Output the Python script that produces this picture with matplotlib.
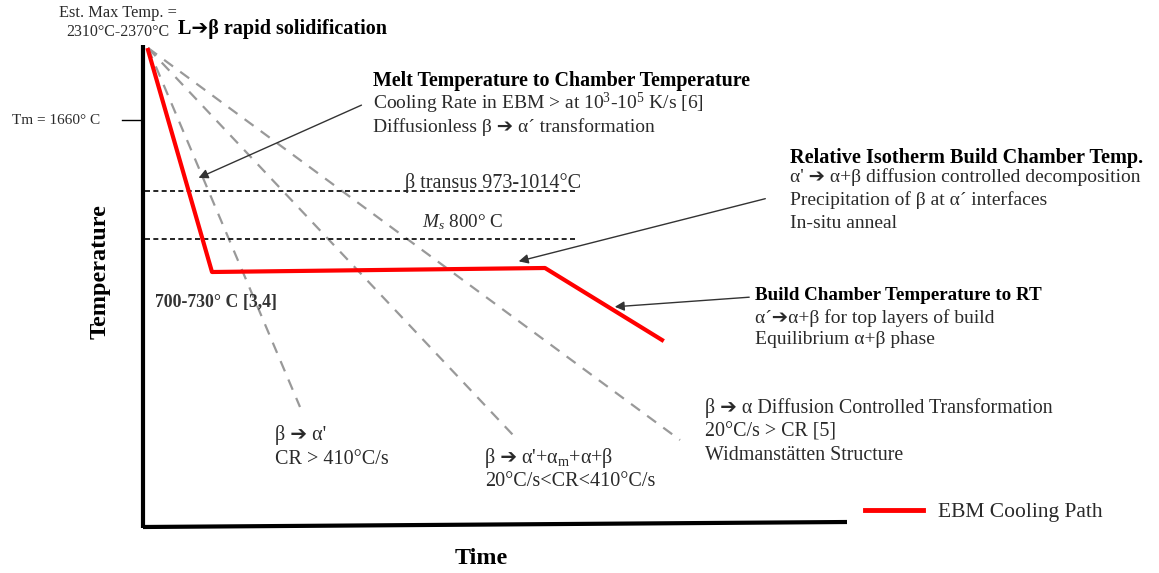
import matplotlib
matplotlib.use("Agg")
import matplotlib.pyplot as plt

plt.rcParams["font.family"] = ["Liberation Serif", "DejaVu Sans"]
plt.rcParams["mathtext.fontset"] = "custom"
plt.rcParams["mathtext.rm"] = "Liberation Serif"
plt.rcParams["mathtext.it"] = "Liberation Serif:italic"
plt.rcParams["mathtext.bf"] = "Liberation Serif:bold"

# schematic units: time from the origin of the axes, temperature upwards
ebm_time = [5, 69, 402, 519]
ebm_temp = [478, 256, 260, 188]

start_time, start_temp = 5, 480
cr_end_time = [157, 370, 537]
cr_end_temp = [121, 93, 88]

isotherm_temp = [337, 289]
isotherm_span = [2, 435]
tm_temp = 408

TXT = "#2a2a2a"
ARW = "\u2794"

fig = plt.figure(figsize=(11.59, 5.73), dpi=100)
ax = fig.add_axes([0, 0, 1, 1])
ax.set_xlim(-143, 1016)
ax.set_ylim(-45, 528)
ax.axis("off")

# axes lines
ax.plot([0, 0], [0, 483], color="black", lw=3, solid_capstyle="butt")
ax.plot([0, 704], [1, 6], color="black", lw=3, solid_capstyle="butt")
ax.plot([-21, -3], [tm_temp, tm_temp], color="black", lw=1)

# cooling rate lines
for t, T in zip(cr_end_time, cr_end_temp):
    ax.plot([start_time, t], [start_temp, T], color="#999999", lw=1.6,
            dashes=(5, 4))

# isotherms
for T in isotherm_temp:
    ax.plot(isotherm_span, [T, T], color="black", lw=1.2, dashes=(3, 2))

# EBM path
ax.plot(ebm_time, ebm_temp, color="red", lw=3)

# legend
ax.plot([722, 780], [18, 18], color="red", lw=3.5)
ax.text(795, 15, "EBM Cooling Path", fontsize=15.5, color=TXT, va="center")

# labels
ax.text(-43, 256, "Temperature", rotation=90, fontsize=17.5, weight="bold",
        ha="center", va="center")
ax.text(338, -30, "Time", fontsize=17.3, weight="bold", ha="center",
        va="center")
ax.text(-131, tm_temp, "Tm = 1660° C", fontsize=11, color=TXT, va="center")
ax.text(-25, 515, "Est. Max Temp. =", fontsize=11.8, color=TXT,
        ha="center", va="center")
ax.text(-25, 496, "2310°C-2370°C", fontsize=11.5, color=TXT,
        ha="center", va="center")
ax.text(35, 499, f"L{ARW}β rapid solidification", fontsize=14.5,
        weight="bold", va="center")
ax.text(12, 226, "700-730° C [3,4]", fontsize=12.8, weight="bold",
        color="#333333", va="center")

ax.text(262, 345, "β transus 973-1014°C", fontsize=14.5, color=TXT,
        va="center")
ax.text(279, 306, "$M_s$ 800° C", fontsize=13.8, color=TXT, va="center")

ax.text(230, 447, "Melt Temperature to Chamber Temperature", fontsize=14.4,
        weight="bold", va="center")
ax.text(230, 425, "Cooling Rate in EBM > at 10$^3$-10$^5$ K/s [6]",
        fontsize=14, color=TXT, va="center")
ax.text(230, 401, f"Diffusionless β {ARW} α´ transformation", fontsize=14,
        color=TXT, va="center")
ax.annotate("", xy=(53, 349), xytext=(221, 424),
            arrowprops=dict(arrowstyle="-|>", color="#333333", lw=1,
                            mutation_scale=14))

ax.text(647, 370, "Relative Isotherm Build Chamber Temp.", fontsize=14.6,
        weight="bold", va="center")
ax.text(647, 351, f"α' {ARW} α+β diffusion controlled decomposition",
        fontsize=14, color=TXT, va="center")
ax.text(647, 328, "Precipitation of β at α´ interfaces", fontsize=14,
        color=TXT, va="center")
ax.text(647, 304, "In-situ anneal", fontsize=14, color=TXT, va="center")
ax.annotate("", xy=(373, 266), xytext=(625, 330),
            arrowprops=dict(arrowstyle="-|>", color="#333333", lw=1,
                            mutation_scale=14))

ax.text(612, 232, "Build Chamber Temperature to RT", fontsize=13.7,
        weight="bold", va="center")
ax.text(612, 210, f"α´{ARW}α+β for top layers of build", fontsize=14,
        color=TXT, va="center")
ax.text(612, 188, "Equilibrium α+β phase", fontsize=14, color=TXT,
        va="center")
ax.annotate("", xy=(469, 221), xytext=(609, 231),
            arrowprops=dict(arrowstyle="-|>", color="#333333", lw=1,
                            mutation_scale=14))

ax.text(132, 93, f"β {ARW} α'", fontsize=14.5, color=TXT, va="center")
ax.text(132, 68, "CR > 410°C/s", fontsize=14.5, color=TXT, va="center")
head = ax.text(342, 65, f"β {ARW}", fontsize=14.5, color=TXT,
               va="baseline")
ax.annotate(r"α'+α$_\mathrm{m}$+α+β", xy=(1, 65), xycoords=(head, "data"),
            xytext=(2.5, 0), textcoords="offset points", fontsize=14.5,
            color=TXT, va="baseline")
ax.text(342, 46, "20°C/s<CR<410°C/s", fontsize=14.5, color=TXT,
        va="center")
ax.text(562, 120, f"β {ARW} α Diffusion Controlled Transformation",
        fontsize=14.4, color=TXT, va="center")
ax.text(562, 96, "20°C/s > CR [5]", fontsize=14.4, color=TXT, va="center")
ax.text(562, 73, "Widmanstätten Structure", fontsize=14.4, color=TXT,
        va="center")

fig.savefig("out.png", dpi=100)
